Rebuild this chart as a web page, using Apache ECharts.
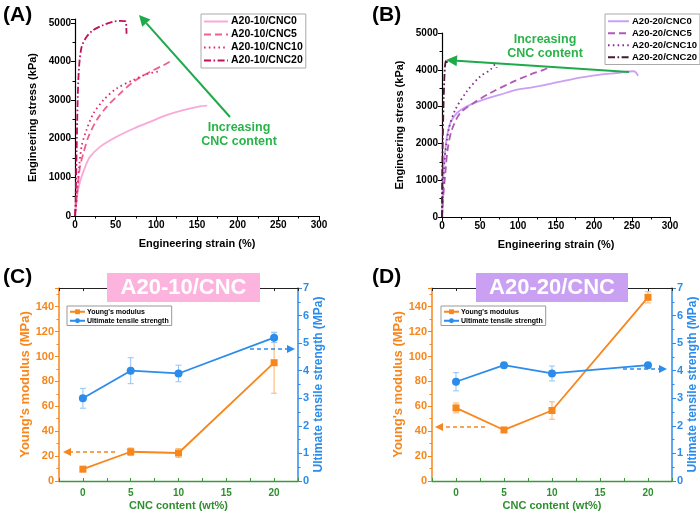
<!DOCTYPE html>
<html><head><meta charset="utf-8">
<script src="https://cdn.jsdelivr.net/npm/echarts@6/dist/echarts.min.js"></script>
<style>html,body{margin:0;padding:0;background:#fff}#c{width:700px;height:515px}</style>
</head><body><div id="c"></div>
<script>
const FONT = '"Liberation Sans", Arial, sans-serif';

// ---------- Panel A data: [strain %, stress kPa] ----------
const namesA = ['A20-10/CNC0','A20-10/CNC5','A20-10/CNC10','A20-10/CNC20'];
const a0 = [[0,0],[1.2,233],[2,406],[4,700],[8,1010],[13,1300],[18.4,1530],[30.7,1790],[51,2050],[71.6,2260],[92,2435],[112.6,2610],[133,2740],[153.5,2840],[162.5,2860]];
const a5 = [[0,0],[1.5,400],[3.3,750],[6.1,1270],[10.2,1615],[16.4,2045],[26.6,2480],[38.9,2825],[55.3,3170],[71.6,3470],[92,3730],[108.5,3900],[120.8,4050]];
const a10 = [[0,0],[1,200],[2,400],[4,1010],[8,1790],[14,2220],[22.5,2650],[35,3000],[51,3300],[71.6,3520],[88,3670],[104.4,3750]];
const a20 = [[0,0],[0.8,400],[2,1700],[3.3,3000],[5,3860],[8.2,4380],[14.3,4640],[22.5,4815],[35,4945],[47,5030],[55.3,5050],[62.6,5030],[63,4900],[63.4,4720]];

// ---------- Panel B data ----------
const namesB = ['A20-20/CNC0','A20-20/CNC5','A20-20/CNC10','A20-20/CNC20'];
const b0 = [[0,0],[0.9,470],[2.2,1377],[4.4,1830],[6.6,2190],[11,2555],[19.7,2826],[32.8,3007],[54.8,3190],[76.7,3325],[98.6,3460],[120.5,3530],[142.4,3620],[164,3714],[186,3800],[208,3870],[230,3913],[252,3960],[255,3930],[258,3840]];
const b5 = [[0,0],[1.3,470],[4.4,1196],[7.4,1830],[13,2373],[24,2826],[41.6,3100],[63.5,3370],[90,3640],[116,3870],[133.6,4000],[140,4060]];
const b10 = [[0,0],[1,470],[3.5,1560],[8.8,2373],[17.5,2917],[32.8,3415],[50.4,3822],[63.5,4000],[70,4140],[72,4050]];
const b20 = [[0,0],[0.4,1377],[2.2,3190],[3.9,4094],[5.7,4275],[6.6,4185]];

// ---------- Panels C & D data ----------
const cnc = [0, 5, 10, 20];
const ymC = [9.5, 23.5, 22.5, 95];
const ymErrC = [1.5, 3, 3.5, 24.5];
const utsC = [3.0, 4.0, 3.9, 5.2];
const utsErrC = [0.36, 0.47, 0.3, 0.18];
const ymD = [58.7, 41, 56.6, 147.5];
const ymErrD = [4, 1.5, 7, 4.5];
const utsD = [3.6, 4.2, 3.9, 4.2];
const utsErrD = [0.33, 0.1, 0.27, 0.05];

const ORANGE = '#f7861c', BLUE = '#2b8ceb', GREEN = '#2e8f2e', ARROWG = '#1faa4a';
const colA = ['#f9a8d8', '#f0608c', '#e62672', '#c0105a'];
const colB = ['#c9a0f2', '#b05ab8', '#8a3092', '#4a1a34'];
const dashes = ['solid', [7,4], [1.6,3.2], [7,2.5,1.6,2.5]];

const bold = (size, color) => ({fontFamily: FONT, fontWeight: 'bold', fontSize: size, color: color || '#000'});

function strainAxis(g) {
  return {type:'value', gridIndex:g, min:0, max:300, interval:50,
    axisLine:{show:true, onZero:false, lineStyle:{color:'#000', width:1.2}},
    axisTick:{show:true, length:4, lineStyle:{color:'#000'}},
    minorTick:{show:true, splitNumber:2, length:2.5, lineStyle:{color:'#000'}},
    splitLine:{show:false}, minorSplitLine:{show:false},
    axisLabel:Object.assign(bold(10), {margin:4}),
    name:'Engineering strain (%)', nameLocation:'middle', nameGap:22, nameTextStyle:bold(11)};
}
function stressAxis(g, max) {
  return {type:'value', gridIndex:g, min:0, max:max, interval:1000,
    axisLine:{show:true, onZero:false, lineStyle:{color:'#000', width:1.2}},
    axisTick:{show:true, length:4, lineStyle:{color:'#000'}},
    minorTick:{show:true, splitNumber:2, length:2.5, lineStyle:{color:'#000'}},
    splitLine:{show:false}, minorSplitLine:{show:false},
    axisLabel:Object.assign(bold(10), {margin:4, formatter: v => (v % 1000 === 0 ? String(v) : '')}),
    name:'Engineering stress (kPa)', nameLocation:'middle', nameGap:37, nameTextStyle:bold(11)};
}
function cncAxis(g) {
  return {type:'value', gridIndex:g, min:-2.5, max:22.5, interval:2.5,
    axisLine:{show:true, onZero:false, lineStyle:{color:'#3a9a3a', width:1.3}},
    axisTick:{show:true, inside:true, length:3, lineStyle:{color:'#3a9a3a'}},
    splitLine:{show:false},
    axisLabel:Object.assign(bold(10, GREEN), {margin:7, formatter: v => (Math.abs(v % 5) < 1e-9 ? String(Math.round(v)) : '')}),
    name:'CNC content (wt%)', nameLocation:'middle', nameGap:19, nameTextStyle:bold(11, GREEN)};
}
function topAxis(g) {
  return {type:'value', gridIndex:g, position:'top', min:-2.5, max:22.5, interval:2.5,
    axisLine:{show:true, onZero:false, lineStyle:{color:'#222', width:1}},
    axisTick:{show:true, inside:true, length:3, lineStyle:{color:'#222'}},
    splitLine:{show:false}, axisLabel:{show:false}};
}
function ymAxis(g) {
  return {type:'value', gridIndex:g, position:'left', min:0, max:155, interval:20,
    axisLine:{show:true, onZero:false, lineStyle:{color:ORANGE, width:1.5}},
    axisTick:{show:true, length:4, lineStyle:{color:ORANGE}},
    minorTick:{show:true, splitNumber:2, length:2.5, lineStyle:{color:ORANGE}},
    splitLine:{show:false}, minorSplitLine:{show:false},
    axisLabel:Object.assign(bold(11, ORANGE), {margin:5, formatter: v => (v % 20 === 0 ? String(v) : '')}),
    name:"Young's modulus (MPa)", nameLocation:'middle', nameGap:27, nameTextStyle:bold(13, ORANGE)};
}
function utsAxis(g) {
  return {type:'value', gridIndex:g, position:'right', min:0, max:7, interval:1,
    axisLine:{show:true, onZero:false, lineStyle:{color:BLUE, width:1.5}},
    axisTick:{show:true, length:4, lineStyle:{color:BLUE}},
    minorTick:{show:true, splitNumber:2, length:2.5, lineStyle:{color:BLUE}},
    splitLine:{show:false}, minorSplitLine:{show:false},
    axisLabel:Object.assign(bold(11, BLUE), {margin:5}),
    name:'Ultimate tensile strength (MPa)', nameLocation:'middle', nameGap:14, nameTextStyle:bold(12, BLUE)};
}

function curve(name, data, color, dash, xi, yi) {
  return {type:'line', name, data, xAxisIndex:xi, yAxisIndex:yi, symbol:'none', showSymbol:false,
    smooth:0.3, lineStyle:{color, width:1.8, type:dash}, itemStyle:{color}, z:3};
}
function errSeries(name, vals, errs, color, xi, yi) {
  return {type:'custom', name, xAxisIndex:xi, yAxisIndex:yi, z:2,
    data: cnc.map((x, i) => [x, vals[i] - errs[i], vals[i] + errs[i]]),
    encode:{x:0, y:[1,2]},
    renderItem:(params, api) => {
      const x = api.value(0);
      const p1 = api.coord([x, api.value(1)]), p2 = api.coord([x, api.value(2)]);
      const w = 3, st = {stroke:color, lineWidth:1};
      return {type:'group', children:[
        {type:'line', shape:{x1:p1[0], y1:p1[1], x2:p2[0], y2:p2[1]}, style:st},
        {type:'line', shape:{x1:p1[0]-w, y1:p1[1], x2:p1[0]+w, y2:p1[1]}, style:st},
        {type:'line', shape:{x1:p2[0]-w, y1:p2[1], x2:p2[0]+w, y2:p2[1]}, style:st}]};
    }};
}
function pointSeries(name, vals, color, symbol, size, xi, yi) {
  return {type:'line', name, xAxisIndex:xi, yAxisIndex:yi, z:4,
    data: cnc.map((x, i) => [x, vals[i]]),
    symbol, symbolSize:size, showSymbol:true,
    lineStyle:{color, width:1.8}, itemStyle:{color}};
}

function arrow(x1, y1, x2, y2, color, width, dash, head) {
  const ang = Math.atan2(y2 - y1, x2 - x1);
  const hw = head * 0.5;
  const bx = x2 - head * Math.cos(ang), by = y2 - head * Math.sin(ang);
  const px = -Math.sin(ang) * hw, py = Math.cos(ang) * hw;
  return [
    {type:'line', z:50, shape:{x1, y1, x2:bx, y2:by}, style:{stroke:color, lineWidth:width, lineDash:dash || null}},
    {type:'polygon', z:50, shape:{points:[[x2,y2],[bx+px,by+py],[bx-px,by-py]]}, style:{fill:color}}
  ];
}
function txt(x, y, text, size, color, align) {
  return {type:'text', z:60, x, y, style:{text, x:0, y:0, fill:color, font:'bold ' + size + 'px ' + FONT,
    textAlign:align || 'center', textVerticalAlign:'middle'}};
}

const legendTop = (left, top, names, fs, lh, gap, iw) => ({
  orient:'vertical', left, top, data:names, itemWidth:iw, itemHeight:8, itemGap:gap,
  padding:[2,3,2,2], borderColor:'#aaa', borderWidth:1, backgroundColor:'#fff',
  itemStyle:{opacity:0},
  textStyle:Object.assign(bold(fs), {lineHeight:lh, padding:[0,0,0,-2]}), selectedMode:false
});
const legendBottom = (left, top) => ({
  orient:'vertical', left, top, data:["Young's modulus", 'Ultimate tensile strength'],
  itemWidth:15, itemHeight:6, itemGap:1.5, padding:[2,3,1,2], borderColor:'#999', borderWidth:1,
  backgroundColor:'#fff', textStyle:Object.assign(bold(7), {lineHeight:7.5, padding:[0,0,0,-3]}), selectedMode:false
});

const graphics = [].concat(
  txt(3, 15, '(A)', 21, '#000', 'left'),
  txt(372, 15, '(B)', 21, '#000', 'left'),
  txt(3, 277, '(C)', 21, '#000', 'left'),
  txt(372, 277, '(D)', 21, '#000', 'left'),
  arrow(230, 117, 139, 15, ARROWG, 2, null, 11),
  txt(239, 128, 'Increasing', 12.5, '#2ab34a'),
  txt(239, 142, 'CNC content', 12.5, '#2ab34a'),
  arrow(629, 72, 446, 60, ARROWG, 2, null, 11),
  txt(545, 40, 'Increasing', 12.5, '#2ab34a'),
  txt(545, 54, 'CNC content', 12.5, '#2ab34a'),
  arrow(115, 452, 63, 452, ORANGE, 1.4, [4,3], 8),
  arrow(250, 349, 295, 349, BLUE, 1.4, [4,3], 8),
  arrow(485, 427, 435, 427, ORANGE, 1.4, [4,3], 8),
  arrow(623, 369, 667, 369, BLUE, 1.4, [4,3], 8),
  [{type:'rect', z:40, shape:{x:107, y:273, width:153, height:29}, style:{fill:'#fcb3dd'}},
   txt(183.5, 288, 'A20-10/CNC', 22, '#fff'),
   {type:'rect', z:40, shape:{x:476, y:273, width:152, height:29}, style:{fill:'#c9a0f2'}},
   txt(552, 288, 'A20-20/CNC', 22, '#fff')]
);

const option = {
  animation:false,
  backgroundColor:'#fff',
  textStyle:{fontFamily:FONT},
  grid:[
    {left:75, top:19, width:244, height:197},
    {left:442, top:33, width:228, height:184},
    {left:59, top:288, width:239, height:193},
    {left:432, top:288, width:241, height:193}
  ],
  xAxis:[strainAxis(0), strainAxis(1), cncAxis(2), topAxis(2), cncAxis(3), topAxis(3)],
  yAxis:[stressAxis(0, 5100), stressAxis(1, 5000), ymAxis(2), utsAxis(2), ymAxis(3), utsAxis(3)],
  legend:[
    legendTop(201, 14, namesA, 10.5, 11, 2, 24),
    legendTop(605, 14, namesB, 9.5, 10.5, 1.5, 21),
    legendBottom(67, 306),
    legendBottom(441, 306)
  ],
  series:[
    curve(namesA[0], a0, colA[0], dashes[0], 0, 0),
    curve(namesA[1], a5, colA[1], dashes[1], 0, 0),
    curve(namesA[2], a10, colA[2], dashes[2], 0, 0),
    curve(namesA[3], a20, colA[3], dashes[3], 0, 0),
    curve(namesB[0], b0, colB[0], dashes[0], 1, 1),
    curve(namesB[1], b5, colB[1], dashes[1], 1, 1),
    curve(namesB[2], b10, colB[2], dashes[2], 1, 1),
    curve(namesB[3], b20, colB[3], dashes[3], 1, 1),
    errSeries('errYmC', ymC, ymErrC, '#f9b46e', 2, 2),
    errSeries('errUtsC', utsC, utsErrC, '#93c4f3', 2, 3),
    pointSeries("Young's modulus", ymC, ORANGE, 'rect', 7, 2, 2),
    pointSeries('Ultimate tensile strength', utsC, BLUE, 'circle', 8, 2, 3),
    errSeries('errYmD', ymD, ymErrD, '#f9b46e', 4, 4),
    errSeries('errUtsD', utsD, utsErrD, '#93c4f3', 4, 5),
    pointSeries("Young's modulus", ymD, ORANGE, 'rect', 7, 4, 4),
    pointSeries('Ultimate tensile strength', utsD, BLUE, 'circle', 8, 4, 5)
  ],
  graphic:graphics
};
const chart = echarts.init(document.getElementById('c'));
chart.setOption(option);
</script>
</body></html>
